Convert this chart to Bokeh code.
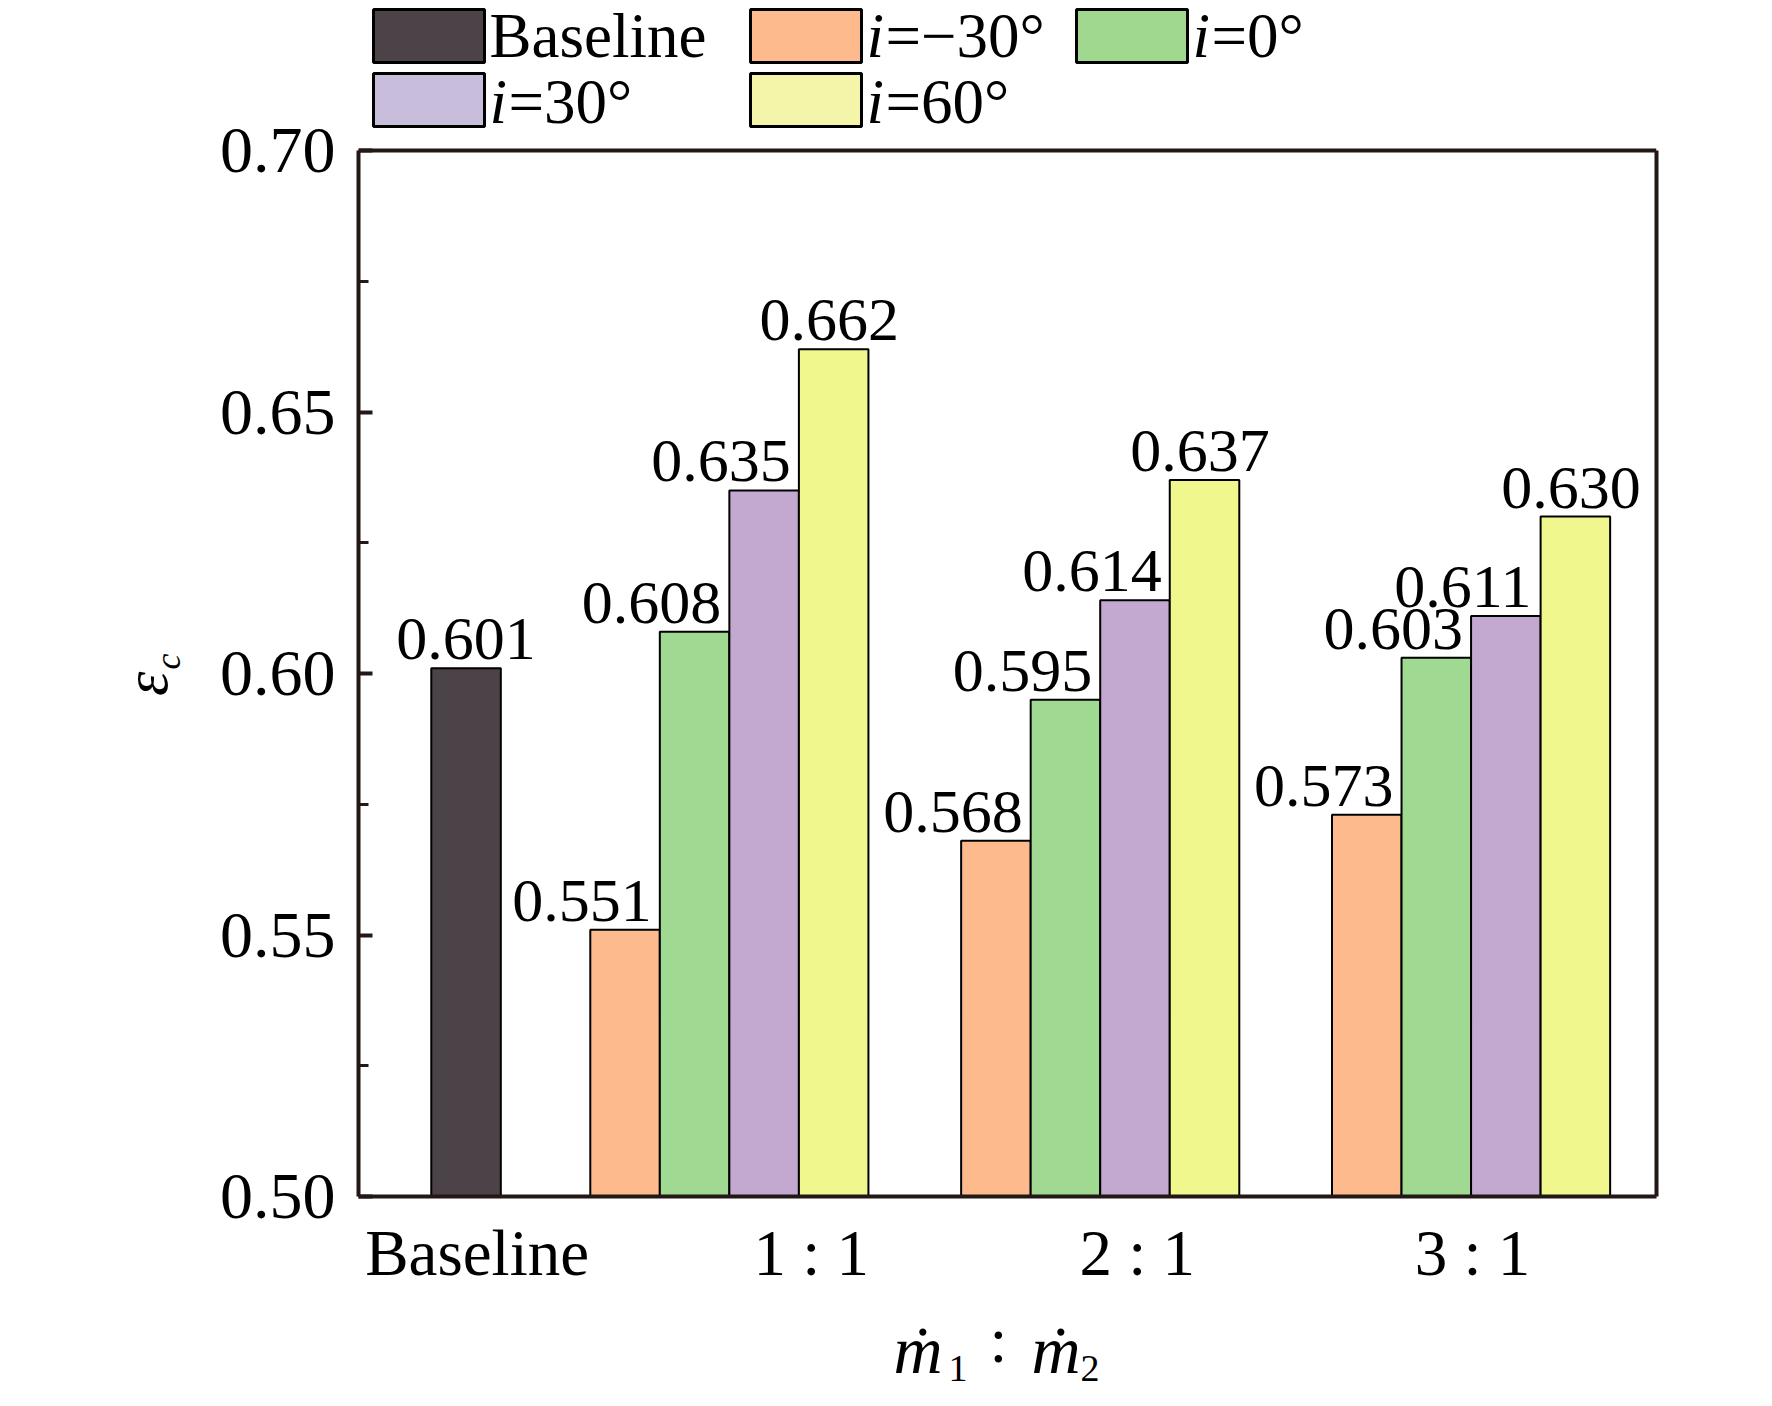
from bokeh.plotting import figure
from bokeh.models import Range1d, FixedTicker, NumeralTickFormatter, LinearAxis, Span
from bokeh.layouts import column
from bokeh.core.properties import value
from bokeh.embed import file_html
from bokeh.resources import INLINE

# ---------------- data ----------------
categories = ["1 : 1", "2 : 1", "3 : 1"]
baseline_name = "Baseline"
baseline_value = [0.601]
incidence = ["\u221230\u00b0", "0\u00b0", "30\u00b0", "60\u00b0"]
val_m30 = [0.551, 0.568, 0.573]
val_0 = [0.608, 0.595, 0.603]
val_30 = [0.635, 0.614, 0.611]
val_60 = [0.662, 0.637, 0.630]
y_ticks = [0.50, 0.55, 0.60, 0.65, 0.70]

series = [val_m30, val_0, val_30, val_60]

# ---------------- style / layout ----------------
FONT = "Liberation Serif"
AX = "#231815"
bar_colors = ["#4B4347", "#FDBA8C", "#A0D991", "#C3A9CF", "#EFF78D"]
legend_colors = ["#4B4347", "#FDBB8D", "#A0D88F", "#C9BDDC", "#F4F5A9"]

group_x = [1.0, 2.0, 3.0]
baseline_x = 0.29
bar_w = 0.1875
label_dx = [-0.116, -0.116, -0.116, -0.012]
tick_pos = [0.32, 1.221, 2.10, 3.004]

FRAME_W = 1298
BL, BR = 358, 100
PX0, PX1 = 358, 1656          # picture x of the frame edges
PLOT_TOP, PLOT_BOT = 150, 1196  # picture y of y=0.70 and y=0.50
Y0, Y1 = y_ticks[0], y_ticks[-1]
PX_PER_Y = (PLOT_BOT - PLOT_TOP) / (Y1 - Y0)
BASE_FIX = 0.338  # alphabetic text lands this many em lower; compensate
NB = "\u00a0"


def fix(y, px):
    return y - BASE_FIX * px


# ---------------- main figure (frame reaches the top: legend lives above 0.70) ----------------
p = figure(frame_width=FRAME_W, frame_height=PLOT_BOT, min_border_left=BL, min_border_right=BR,
           min_border_top=0, min_border_bottom=110,
           x_range=Range1d(0, 3.5), y_range=Range1d(Y0, Y0 + PLOT_BOT / PX_PER_Y),
           output_backend="svg", toolbar_location=None)
p.extra_x_ranges = {"px": Range1d(PX0, PX1)}
p.extra_y_ranges = {"px": Range1d(PLOT_BOT, 0)}
p.grid.visible = False
p.outline_line_color = None

minor = [(a + b) / 2 for a, b in zip(y_ticks[:-1], y_ticks[1:])]
p.yaxis.ticker = FixedTicker(ticks=y_ticks, minor_ticks=minor)
p.yaxis.bounds = (Y0, Y1)
p.yaxis.formatter = NumeralTickFormatter(format="0.00")
p.yaxis.major_tick_in = 14
p.yaxis.major_tick_out = 0
p.yaxis.minor_tick_in = 10
p.yaxis.minor_tick_out = 0
p.yaxis.major_tick_line_width = 4
p.yaxis.minor_tick_line_width = 3
p.yaxis.major_tick_line_color = AX
p.yaxis.minor_tick_line_color = AX
p.yaxis.major_label_standoff = 23
p.yaxis.major_label_text_font_size = "66px"
# subscript "c" of the y title (nearest to the tick labels); padding moves it down the axis
p.yaxis.axis_label = "c" + NB * 14
p.yaxis.axis_label_text_font = FONT
p.yaxis.axis_label_text_font_style = "italic"
p.yaxis.axis_label_text_font_size = "36px"
p.yaxis.axis_label_text_color = "black"
p.yaxis.axis_label_standoff = 29

# outer axis that only carries the epsilon of the y title
eps_axis = LinearAxis(ticker=FixedTicker(ticks=[], minor_ticks=[]), axis_line_color=None,
                      major_tick_line_color=None, minor_tick_line_color=None,
                      major_label_standoff=0, major_tick_out=0, minor_tick_out=0,
                      bounds=(Y0, Y1),
                      axis_label="\u03b5" + NB * 11, axis_label_text_font=FONT,
                      axis_label_text_font_style="italic", axis_label_text_font_size="62px",
                      axis_label_text_color="black", axis_label_standoff=-35)
p.add_layout(eps_axis, "left")

# right frame edge
right_axis = LinearAxis(ticker=FixedTicker(ticks=[], minor_ticks=[]), bounds=(Y0, Y1),
                        axis_line_color=AX, axis_line_width=4,
                        major_tick_line_color=None, minor_tick_line_color=None,
                        major_tick_out=0, minor_tick_out=0, major_label_standoff=0)
p.add_layout(right_axis, "right")
# top frame edge
p.add_layout(Span(location=Y1, dimension="width", line_color=AX, line_width=4))

p.xaxis.ticker = FixedTicker(ticks=tick_pos, minor_ticks=[])
p.xaxis.major_label_overrides = {t: lab for t, lab in zip(tick_pos, [baseline_name] + categories)}
p.xaxis.major_tick_line_color = None
p.xaxis.minor_tick_line_color = None
p.xaxis.major_tick_in = 0
p.xaxis.major_tick_out = 0
p.xaxis.major_label_standoff = 20
p.xaxis.major_label_text_font_size = "65px"

for ax in (p.xaxis[0], p.yaxis[0]):
    ax.axis_line_width = 4
    ax.axis_line_color = AX
    ax.major_label_text_font = FONT
    ax.major_label_text_color = "black"

# bars and value labels
LBL_OFF = -8 - BASE_FIX * 62
p.vbar(x=[baseline_x], top=baseline_value, width=bar_w, fill_color=bar_colors[0],
       line_color="black", line_width=2)
p.text(x=[baseline_x], y=baseline_value, text=[f"{v:.3f}" for v in baseline_value],
       text_align="center", text_baseline="alphabetic", y_offset=LBL_OFF,
       text_font=value(FONT), text_font_size="62px", text_color="black")
for j, vals in enumerate(series):
    xs = [g + (j - 1.5) * bar_w for g in group_x]
    p.vbar(x=xs, top=vals, width=bar_w, fill_color=bar_colors[j + 1],
           line_color="black", line_width=2)
    p.text(x=[x + label_dx[j] for x in xs], y=vals, text=[f"{v:.3f}" for v in vals],
           text_align="center", text_baseline="alphabetic", y_offset=LBL_OFF,
           text_font=value(FONT), text_font_size="62px", text_color="black")

# legend (picture pixel coordinates via the "px" ranges)
col_x = [373, 750, 1076]
row_top = [9, 73]
row_base = [57, 123]
cells = [(0, 0), (1, 0), (2, 0), (0, 1), (1, 1)]
box_w, box_h = 111, 53
LFS = 63
p.rect(x=[col_x[c] + box_w / 2 for c, r in cells],
       y=[row_top[r] + box_h / 2 for c, r in cells],
       width=box_w, height=box_h, fill_color=legend_colors, line_color="black", line_width=3,
       x_range_name="px", y_range_name="px")
names = [baseline_name] + ["i=" + a for a in incidence]
for k, (c, r) in enumerate(cells):
    tx = col_x[c] + box_w + 5
    ty = fix(row_base[r], LFS)
    nm = names[k]
    common = dict(text_font=value(FONT), text_font_size=f"{LFS}px", text_baseline="alphabetic",
                  text_color="black", x_range_name="px", y_range_name="px")
    if nm.startswith("i="):
        p.text(x=[tx], y=[ty], text=["i"], text_font_style="italic", **common)
        p.text(x=[tx + 19], y=[ty], text=[nm[1:]], **common)
    else:
        p.text(x=[tx], y=[ty], text=[nm], **common)

# ---------------- x title (picture pixel coordinates) ----------------
xt = figure(frame_width=FRAME_W, frame_height=84, min_border_left=BL,
            min_border_right=BR, min_border_top=0, min_border_bottom=0,
            x_range=Range1d(PX0, PX1), y_range=Range1d(1390, 1306),
            x_axis_location=None, y_axis_location=None,
            output_backend="svg", toolbar_location=None)
xt.grid.visible = False
xt.outline_line_color = None
for xx, yy, tx, px, style in [
    (893, 1372, "\u1e41", 68, "italic"),
    (948, 1381, "1", 38, "normal"),
    (1031, 1372, "\u1e41", 68, "italic"),
    (1080, 1381, "2", 38, "normal"),
]:
    xt.text(x=[xx], y=[fix(yy, px)], text=[tx], text_font=value(FONT), text_font_style=style,
            text_font_size=f"{px}px", text_baseline="alphabetic", text_align="left",
            text_color="black")
xt.text(x=[998], y=[fix(1362, 64)], text=[":"], text_font=value(FONT), text_font_size="64px",
        text_baseline="alphabetic", text_align="center", text_color="black")

layout = column(p, xt, spacing=0)
open("out.html", "w").write(file_html(layout, INLINE))
